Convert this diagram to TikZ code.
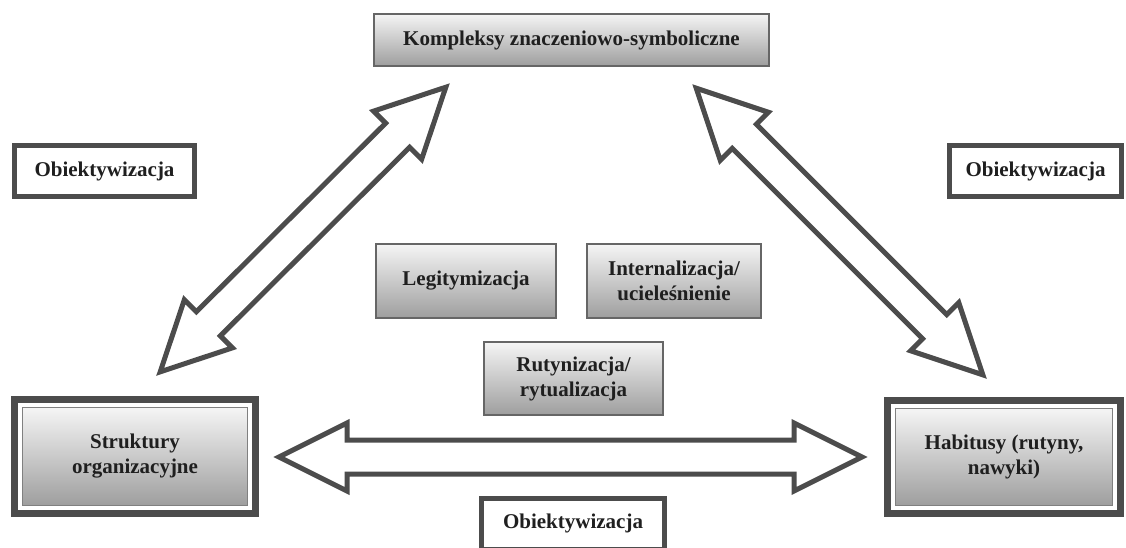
\documentclass[tikz,border=0pt]{standalone}
\usepackage{fontspec}
\setmainfont{Liberation Serif}
\usetikzlibrary{calc,fit}

\tikzset{
  shadebox/.style={draw=black!60, line width=1.5pt, top color=black!4, bottom color=black!38,
    align=center, text=black!88, font=\fontsize{21}{25}\selectfont\bfseries, inner sep=0pt},
  plainbox/.style={draw=black!70, line width=5pt, fill=white, minimum height=51pt,
    text=black!88, font=\fontsize{21}{25}\selectfont\bfseries, inner sep=0pt},
  frame/.style={draw=black!70, line width=7pt, inner sep=7.5pt},
  hollow/.style={draw=black!70, line width=5pt, fill=white, line join=miter}
}
\newcommand{\hollowarrow}[2]{%
  \draw[hollow] (#1) -- ($(#1)!68pt!(#2)!34pt!90:(#2)$) -- ($(#1)!68pt!(#2)!17pt!90:(#2)$)
    -- ($(#2)!68pt!(#1)!17pt!-90:(#1)$) -- ($(#2)!68pt!(#1)!34pt!-90:(#1)$) -- (#2)
    -- ($(#2)!68pt!(#1)!34pt!90:(#1)$) -- ($(#2)!68pt!(#1)!17pt!90:(#1)$)
    -- ($(#1)!68pt!(#2)!17pt!-90:(#2)$) -- ($(#1)!68pt!(#2)!34pt!-90:(#2)$) -- cycle;}

\begin{document}
\begin{tikzpicture}[x=1pt, y=-1pt]
  \useasboundingbox (0,0) rectangle (1126,547);
  \node[shadebox, minimum width=395pt, minimum height=52pt] (kompl) at (571.5,40) {Kompleksy znaczeniowo-symboliczne};
  \node[shadebox, draw=black!50, line width=1pt, minimum width=225pt, minimum height=98pt] (strukt) at (135,456.5) {Struktury\\ organizacyjne};
  \node[shadebox, draw=black!50, line width=1pt, minimum width=217pt, minimum height=97pt] (habit) at (1004,457) {Habitusy (rutyny,\\ nawyki)};
  \node[frame, fit=(strukt)] (struktframe) {};
  \node[frame, fit=(habit)] (habitframe) {};
  \node[shadebox, minimum width=180pt, minimum height=74pt] (legit) at (466,281) {Legitymizacja};
  \node[shadebox, minimum width=174pt, minimum height=74pt] (intern) at (674,281) {Internalizacja/\\ ucieleśnienie};
  \node[shadebox, minimum width=179pt, minimum height=73pt] (rutyn) at (573.5,378.5) {Rutynizacja/\\ rytualizacja};
  \foreach \x/\y/\w/\n in {104.5/171/180/obL, 1035.5/171/172/obR, 573/523.5/183/obB}
    \node[plainbox, minimum width=\w pt] (\n) at (\x,\y) {Obiektywizacja};
  % arrow tips
  \coordinate (lowL) at (160.2,371.8);
  \coordinate (upL) at (445.8,87.2);
  \coordinate (upR) at (696.2,88.2);
  \coordinate (lowR) at (982.8,374.8);
  \coordinate (midL) at (279,457);
  \coordinate (midR) at (862,457);
  \hollowarrow{lowL}{upL}
  \hollowarrow{upR}{lowR}
  \hollowarrow{midL}{midR}
\end{tikzpicture}
\end{document}
